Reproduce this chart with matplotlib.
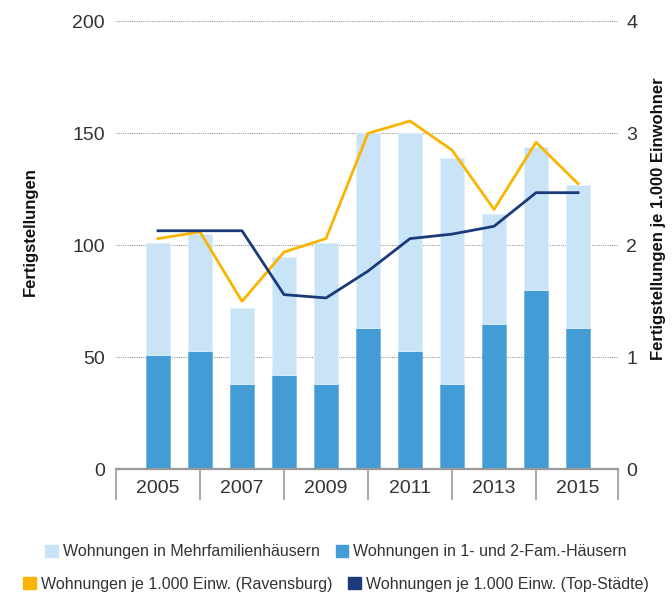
import numpy as np
import matplotlib
matplotlib.use('Agg')
import matplotlib.pyplot as plt
from matplotlib.patches import Patch
import matplotlib.transforms as mtransforms

### Data ###
years = [2005, 2006, 2007, 2008, 2009, 2010, 2011, 2012, 2013, 2014, 2015]
fam12 = [51, 53, 38, 42, 38, 63, 53, 38, 65, 80, 63]          # 1- und 2-Fam.-Haeuser
mfh = [50, 52, 34, 53, 63, 87, 97, 101, 49, 64, 64]            # Mehrfamilienhaeuser
ravensburg = [2.06, 2.12, 1.50, 1.94, 2.06, 3.00, 3.11, 2.85, 2.32, 2.92, 2.55]
top_staedte = [2.13, 2.13, 2.13, 1.56, 1.53, 1.77, 2.06, 2.10, 2.17, 2.47, 2.47]

### Style ###
plt.rcParams['font.family'] = ['Liberation Sans', 'DejaVu Sans']
c_light = '#c9e4f6'
c_dark = '#439cd6'
c_yellow = '#fbb400'
c_navy = '#1b3a7a'
c_text = '#333333'

fig = plt.figure(figsize=(6.72, 5.99), dpi=100)
ax = fig.add_axes([0.1726, 0.2165, 0.747, 0.7479])
x = np.arange(len(years))

ax.bar(x, fam12, width=0.58, color=c_dark, edgecolor='#6fb3e0', linewidth=0.6, zorder=2)
ax.bar(x, mfh, bottom=fam12, width=0.58, color=c_light, edgecolor='#e0f0fb', linewidth=0.6, zorder=2)

ax.set_xlim(-1, 10.95)
ax.set_ylim(0, 200)
ax.set_yticks([0, 50, 100, 150, 200])
ax.yaxis.grid(True, linestyle=(0, (1, 1)), color='#999999', linewidth=0.8, zorder=0)
ax.set_axisbelow(True)
ax.tick_params(axis='y', length=0, labelsize=14, labelcolor=c_text, pad=8)
for s in ['top', 'right', 'left']:
    ax.spines[s].set_visible(False)
ax.spines['bottom'].set_color('#999999')
ax.spines['bottom'].set_linewidth(1.6)

# x labels every second year, separators between groups
ax.set_xticks(x[::2])
ax.set_xticklabels([str(y) for y in years[::2]])
ax.tick_params(axis='x', length=0, labelsize=14, labelcolor=c_text, pad=8)
trans = mtransforms.blended_transform_factory(ax.transData, ax.transAxes)
for sx in [-1, 1, 3, 5, 7, 9, 10.95]:
    ax.plot([sx, sx], [0, -0.066], transform=trans, color='#999999', linewidth=1.2, clip_on=False)

ax.set_ylabel('Fertigstellungen', fontsize=12, fontweight='bold', color='#111111')
ax.yaxis.set_label_coords(-0.155, 0.53)

# right axis
ax2 = ax.twinx()
ax2.plot(x, ravensburg, color=c_yellow, linewidth=2)
ax2.plot(x, top_staedte, color=c_navy, linewidth=2)
ax2.set_ylim(0, 4)
ax2.set_yticks([0, 1, 2, 3, 4])
ax2.tick_params(axis='y', length=0, labelsize=14, labelcolor=c_text, pad=6)
for s in ['top', 'right', 'left', 'bottom']:
    ax2.spines[s].set_visible(False)
ax2.set_ylabel('Fertigstellungen je 1.000 Einwohner', fontsize=12, fontweight='bold',
               color='#111111')
ax2.yaxis.set_label_coords(1.066, 0.56)

# legend, two rows
h1 = [Patch(color=c_light), Patch(color=c_dark)]
l1 = ['Wohnungen in Mehrfamilienhäusern', 'Wohnungen in 1- und 2-Fam.-Häusern']
h2 = [Patch(color=c_yellow), Patch(color=c_navy)]
l2 = ['Wohnungen je 1.000 Einw. (Ravensburg)', 'Wohnungen je 1.000 Einw. (Top-Städte)']
leg1 = fig.legend(h1, l1, ncol=2, loc='center', bbox_to_anchor=(0.5, 0.079), frameon=False,
                  fontsize=11.5, handlelength=0.8, handleheight=0.8, handletextpad=0.3,
                  columnspacing=1.0, labelcolor=c_text)
leg2 = fig.legend(h2, l2, ncol=2, loc='center', bbox_to_anchor=(0.5, 0.025), frameon=False,
                  fontsize=11.5, handlelength=0.8, handleheight=0.8, handletextpad=0.3,
                  columnspacing=1.0, labelcolor=c_text)

fig.savefig('out.png', dpi=100)
